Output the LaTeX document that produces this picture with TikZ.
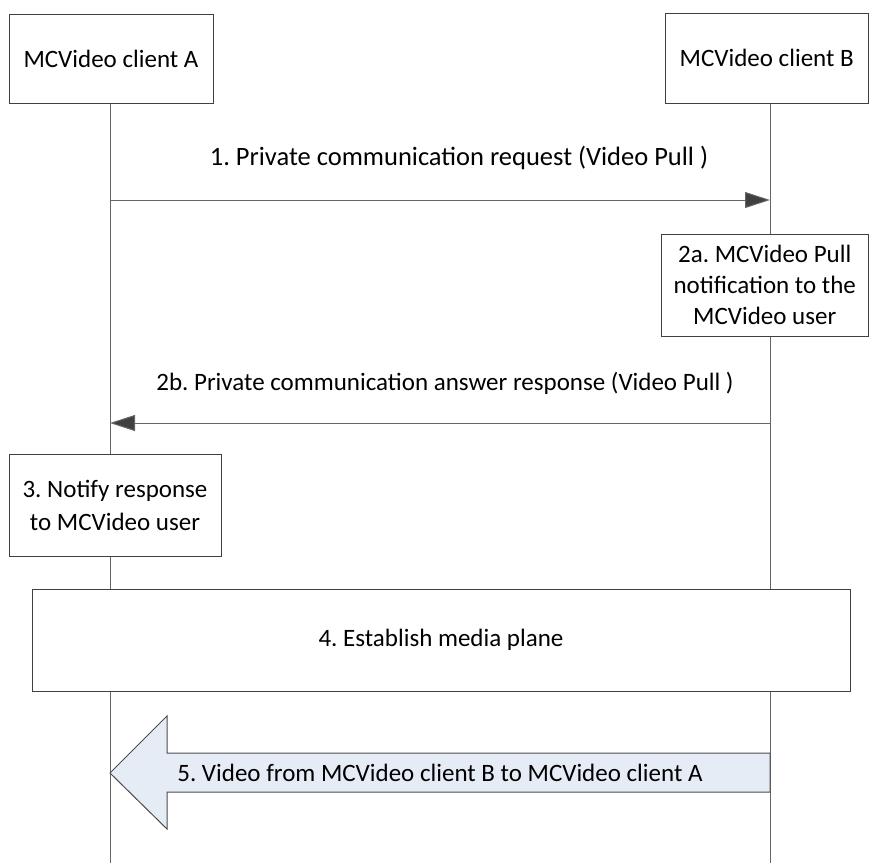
\documentclass[tikz,border=0pt]{standalone}
\usepackage{fontspec}
\setmainfont{Carlito}
\usetikzlibrary{arrows.meta,backgrounds}
\definecolor{pushfill}{RGB}{230,236,246}
\frenchspacing

\begin{document}
\begin{tikzpicture}[x=1pt, y=-1pt, line width=1pt,
  every node/.style={font=\fontsize{25}{31}\selectfont},
  box/.style={draw=black!75, fill=white, align=center, inner sep=0pt},
  msg/.style={draw=black!60, -{Triangle[length=25pt,width=16pt,fill=black!75]}}]
  \useasboundingbox (0,0) rectangle (869,863);
  % clients
  \node[box, minimum width=204, minimum height=89] (a) at (111,58.5) {MCVideo client A};
  \node[box, minimum width=203.5, minimum height=90] (b) at (766.75,58) {MCVideo client B};
  \coordinate (aend) at (110,863);
  \coordinate (bend) at (770,863);
  % steps
  \node[box, minimum width=207.5, minimum height=102] (n2a) at (764.75,285)
    {2a. MCVideo Pull\\notification to the\\MCVideo user};
  \node[box, minimum width=212, minimum height=102, font=\fontsize{25}{33}\selectfont] (n3) at (115,505)
    {3. Notify response\\to MCVideo user};
  \node[box, minimum width=818, minimum height=102] (n4) at (441,640)
    {4. Establish media plane};
  % messages
  \coordinate (a1) at (110,200);
  \coordinate (b1) at (770,200);
  \coordinate (a2) at (110,423);
  \coordinate (b2) at (770,423);
  \node[font=\fontsize{26.5}{31}\selectfont] (m1) at (459,158) {1. Private communication request (Video Pull )};
  \node (m2b) at (445,383) {2b. Private communication answer response (Video Pull )};
  \draw[msg] (a1) -- (b1);
  \draw[msg] (b2) -- (a2);
  % media flow
  \draw[draw=black!70, fill=pushfill] (770,753) -- (167,753) -- (167,716) -- (110,773)
    -- (167,829) -- (167,792) -- (770,792) -- cycle;
  \node (m5) at (440,773) {5. Video from MCVideo client B to MCVideo client A};
  \begin{scope}[on background layer]
    \draw[black!60] (a.south -| aend) -- (aend);
    \draw[black!60] (b.south -| bend) -- (bend);
  \end{scope}
\end{tikzpicture}
\end{document}
